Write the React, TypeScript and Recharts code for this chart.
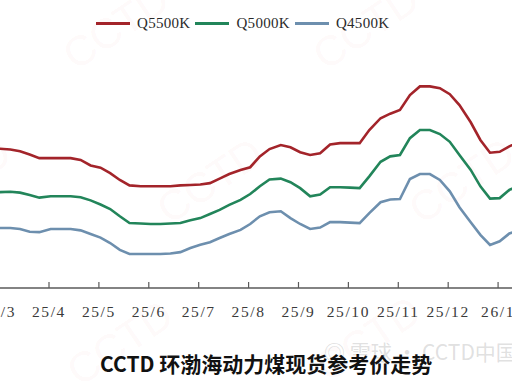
import React from 'react';
import { LineChart, Line, XAxis, YAxis, Legend } from 'recharts';

const dates = [
  '2025-03-01', '2025-03-08', '2025-03-14', '2025-03-20', '2025-03-26',
  '2025-04-02', '2025-04-08', '2025-04-14', '2025-04-20', '2025-04-26',
  '2025-05-02', '2025-05-08', '2025-05-14', '2025-05-20', '2025-05-27',
  '2025-06-02', '2025-06-08', '2025-06-14', '2025-06-20', '2025-06-26',
  '2025-07-02', '2025-07-08', '2025-07-14', '2025-07-20', '2025-07-27',
  '2025-08-02', '2025-08-08', '2025-08-14', '2025-08-21', '2025-08-27',
  '2025-09-02', '2025-09-08', '2025-09-14', '2025-09-20', '2025-09-26',
  '2025-10-02', '2025-10-08', '2025-10-14', '2025-10-21', '2025-10-27',
  '2025-11-02', '2025-11-08', '2025-11-14', '2025-11-20', '2025-11-26',
  '2025-12-02', '2025-12-08', '2025-12-15', '2025-12-21', '2025-12-27',
  '2026-01-02', '2026-01-08', '2026-01-15',
];

const q5500 = [
  697, 695, 691, 684, 676, 676, 676, 676, 672, 660,
  655, 643, 628, 616, 614, 614, 614, 614, 616, 617,
  618, 621, 631, 641, 650, 656, 680, 696, 705, 700,
  689, 683, 687, 706, 709, 709, 709, 738, 764, 774,
  782, 815, 834, 834, 830, 817, 793, 755, 716, 688,
  690, 702, 713,
];

const q5000 = [
  601, 602, 600, 595, 589, 592, 592, 592, 590, 583,
  574, 564, 548, 533, 532, 531, 531, 532, 533, 539,
  544, 553, 562, 573, 584, 597, 614, 629, 631, 623,
  610, 592, 596, 612, 612, 611, 610, 636, 668, 680,
  683, 720, 738, 738, 729, 712, 683, 650, 614, 587,
  588, 606, 617,
];

const q4500 = [
  522, 522, 520, 514, 513, 520, 520, 520, 517, 509,
  501, 489, 474, 465, 465, 465, 465, 466, 469, 478,
  485, 491, 500, 509, 518, 531, 548, 557, 559, 544,
  531, 520, 523, 535, 535, 534, 533, 555, 579, 585,
  586, 630, 641, 641, 628, 603, 568, 535, 507, 485,
  493, 510, 518,
];

const tickLabels = ['25/3', '25/4', '25/5', '25/6', '25/7', '25/8', '25/9', '25/10', '25/11', '25/12', '26/1'];
const seriesNames = ['Q5500K', 'Q5000K', 'Q4500K'];
const seriesColors = ['#A3242A', '#22855A', '#6D8FAE'];
const titleText = 'CCTD 环渤海动力煤现货参考价走势';

function monthPos(d: string): number {
  const [y, m, day] = d.split('-').map(Number);
  const dim = new Date(y, m, 0).getDate();
  return (y - 2025) * 12 + (m - 3) + (day - 1) / dim;
}

const data = dates.map((d, i) => ({
  m: monthPos(d),
  q5500: q5500[i],
  q5000: q5000[i],
  q4500: q4500[i],
}));

const tickPositions = tickLabels.map((_, i) => i);

const serifFont = '"Liberation Serif", "DejaVu Serif", serif';

const renderLegend = (props: any) => {
  const payload = [...(props.payload || [])].sort(
    (a: any, b: any) => seriesNames.indexOf(a.value) - seriesNames.indexOf(b.value)
  );
  return (
    <div
      style={{
        display: 'flex',
        alignItems: 'center',
        fontFamily: serifFont,
        fontSize: 15,
        color: '#2a2a2a',
        whiteSpace: 'nowrap',
        letterSpacing: 0.3,
      }}
    >
      {payload.map((e: any, i: number) => (
        <div key={i} style={{ display: 'flex', alignItems: 'center', marginRight: 5 }}>
          <span
            style={{
              display: 'inline-block',
              width: 34,
              height: 3,
              background: e.color,
              marginRight: 7,
            }}
          />
          <span>{e.value}</span>
        </div>
      ))}
    </div>
  );
};

const watermarkStyle = (left: number, top: number): React.CSSProperties => ({
  position: 'absolute',
  left,
  top,
  fontFamily: '"Liberation Sans", Arial, sans-serif',
  fontSize: 42,
  fontWeight: 400,
  color: 'rgba(225, 110, 110, 0.055)',
  transform: 'rotate(-34deg)',
  transformOrigin: 'center',
  whiteSpace: 'nowrap',
  lineHeight: '42px',
});

export default function App() {
  return (
    <div
      style={{
        position: 'absolute',
        left: 0,
        top: 0,
        width: 512,
        height: 384,
        overflow: 'hidden',
        background: '#ffffff',
      }}
    >
      {/* faint watermarks */}
      <div style={watermarkStyle(58, 6)}>CCTD</div>
      <div style={watermarkStyle(308, 6)}>CCTD</div>
      <div style={watermarkStyle(152, 160)}>CCTD</div>
      <div style={watermarkStyle(404, 160)}>CCTD</div>
      <div style={watermarkStyle(-100, 160)}>CCTD</div>
      <div style={watermarkStyle(62, 322)}>CCTD</div>
      <div style={watermarkStyle(310, 318)}>CCTD</div>

      <div style={{ position: 'absolute', left: 0, top: 0 }}>
        <LineChart
          width={512}
          height={384}
          data={data}
          margin={{ top: 61, right: 0, bottom: 0, left: 0 }}
        >
          <XAxis
            dataKey="m"
            type="number"
            domain={[0.018, 10.279]}
            allowDataOverflow
            ticks={tickPositions}
            interval={0}
            tickFormatter={(v: number) => tickLabels[Math.round(v)] ?? ''}
            height={96}
            tickSize={-6}
            tickMargin={24}
            axisLine={{ stroke: '#5a5a5a', strokeWidth: 1.4 }}
            tickLine={{ stroke: '#5a5a5a', strokeWidth: 1.2 }}
            tick={{
              fill: '#3a3a3a',
              fontSize: 15.5,
              fontFamily: serifFont,
              letterSpacing: 1.6,
            }}
          />
          <YAxis hide domain={[390, 890]} allowDataOverflow />
          <Legend
            verticalAlign="middle"
            layout="horizontal"
            content={renderLegend}
            wrapperStyle={{ position: 'absolute', top: 15, left: 96, width: 'auto', height: 18 }}
          />
          <Line
            type="linear"
            dataKey="q5500"
            name={seriesNames[0]}
            stroke={seriesColors[0]}
            strokeWidth={2.6}
            dot={false}
            isAnimationActive={false}
          />
          <Line
            type="linear"
            dataKey="q5000"
            name={seriesNames[1]}
            stroke={seriesColors[1]}
            strokeWidth={2.6}
            dot={false}
            isAnimationActive={false}
          />
          <Line
            type="linear"
            dataKey="q4500"
            name={seriesNames[2]}
            stroke={seriesColors[2]}
            strokeWidth={2.6}
            dot={false}
            isAnimationActive={false}
          />
        </LineChart>
      </div>

      {/* Xueqiu watermark */}
      <div
        style={{
          position: 'absolute',
          left: 324,
          top: 340,
          fontFamily: '"Noto Sans CJK SC", sans-serif',
          fontSize: 21,
          color: 'rgba(150, 150, 150, 0.3)',
          whiteSpace: 'nowrap',
          lineHeight: '22px',
        }}
      >
        ◎ 雪球 · CCTD中国煤炭市场网
      </div>

      {/* title */}
      <div
        style={{
          position: 'absolute',
          left: 100,
          top: 351,
          fontFamily: '"Noto Sans CJK SC", sans-serif',
          fontSize: 21,
          fontWeight: 700,
          color: '#111111',
          whiteSpace: 'nowrap',
          lineHeight: '24px',
        }}
      >
        {titleText}
      </div>
    </div>
  );
}
